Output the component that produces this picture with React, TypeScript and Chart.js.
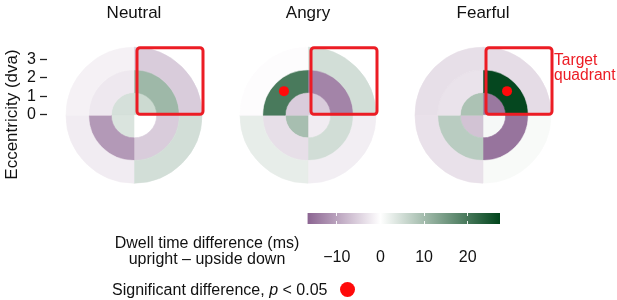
import React, { useEffect, useRef } from 'react';
import { Chart, registerables } from 'chart.js';

Chart.register(...registerables);

// ---------------- data ----------------
const PANELS = ['Neutral', 'Angry', 'Fearful'];
const QUADRANTS = ['Upper right', 'Lower right', 'Lower left', 'Upper left'];
const QUADRANT_SHARE = [1, 1, 1, 1];

// Dwell time difference (ms), upright – upside down; quadrant order as QUADRANTS
const NEUTRAL_OUTER = [-5.5, 4.8, -2.0, -1.5];
const NEUTRAL_MIDDLE = [10.5, -5.5, -11.0, -2.5];
const NEUTRAL_INNER = [5.5, 0.0, 4.0, 4.5];

const ANGRY_OUTER = [4.8, -1.8, 2.6, -0.3];
const ANGRY_MIDDLE = [-13.3, 5.0, -3.5, 19.6];
const ANGRY_INNER = [-5.5, -2.0, 9.5, -5.5];

const FEARFUL_OUTER = [-3.8, 0.8, -3.2, -3.5];
const FEARFUL_MIDDLE = [27.0, -15.0, 7.5, -3.0];
const FEARFUL_INNER = [-14.5, 1.0, -6.5, 9.0];

// significant difference (p < 0.05): rings outer, middle, inner
const NEUTRAL_SIGNIFICANT = [[0, 0, 0, 0], [0, 0, 0, 0], [0, 0, 0, 0]];
const ANGRY_SIGNIFICANT = [[0, 0, 0, 0], [0, 0, 0, 1], [0, 0, 0, 0]];
const FEARFUL_SIGNIFICANT = [[0, 0, 0, 0], [1, 0, 0, 0], [0, 0, 0, 0]];

const ECCENTRICITY_RANGE = [-3.5, 3.5];
const ECCENTRICITY_TICKS = [0, 1, 2, 3];

const COLORBAR_RANGE = [-16.7, 27.4];
const COLORBAR_TICKS = [-10, 0, 10, 20];
const CMAP_LIMIT = 27.5;

// ---------------- styles ----------------
const FONT = "'Liberation Sans', Arial, Helvetica, sans-serif";
const RED = '#ec1c24';
const CMAP_NEG = [64, 0, 75];
const CMAP_MID = [255, 255, 255];
const CMAP_POS = [0, 68, 27];
const PANEL_CX = [134, 308, 483];
const RADIUS = 68;

Chart.defaults.font.family = FONT;
Chart.defaults.color = '#111';

function colorFor(v: number): string {
  const t = Math.max(-1, Math.min(1, v / CMAP_LIMIT));
  const end = t < 0 ? CMAP_NEG : CMAP_POS;
  const a = Math.abs(t);
  const c = CMAP_MID.map((m, i) => Math.round(m + a * (end[i] - m)));
  return `rgb(${c[0]},${c[1]},${c[2]})`;
}

const PANEL_DATA = [
  { rings: [NEUTRAL_OUTER, NEUTRAL_MIDDLE, NEUTRAL_INNER], sig: NEUTRAL_SIGNIFICANT },
  { rings: [ANGRY_OUTER, ANGRY_MIDDLE, ANGRY_INNER], sig: ANGRY_SIGNIFICANT },
  { rings: [FEARFUL_OUTER, FEARFUL_MIDDLE, FEARFUL_INNER], sig: FEARFUL_SIGNIFICANT },
];

const overlayPlugin = {
  id: 'quadrantOverlay',
  afterDatasetsDraw(chart: any, _args: any, opts: any) {
    const ctx = chart.ctx;
    const arc = chart.getDatasetMeta(0).data[0];
    const { x, y, outerRadius } = arc.getProps(['x', 'y', 'outerRadius'], true);
    ctx.save();
    ctx.strokeStyle = RED;
    ctx.lineWidth = 3;
    ctx.lineJoin = 'round';
    ctx.beginPath();
    const left = x + 3;
    const top = y - outerRadius + 0.5;
    const right = x + outerRadius + 1;
    const bottom = y - 1;
    (ctx as any).roundRect(left, top, right - left, bottom - top, 3);
    ctx.stroke();
    const sig: number[][] = opts.sig || [];
    sig.forEach((row, ri) => {
      row.forEach((s, qi) => {
        if (!s) return;
        const el = chart.getDatasetMeta(ri).data[qi];
        const p = el.getCenterPoint();
        ctx.fillStyle = '#ff0a0a';
        ctx.beginPath();
        ctx.arc(p.x, p.y, 5, 0, Math.PI * 2);
        ctx.fill();
      });
    });
    ctx.restore();
  },
};

function Panel({ index }: { index: number }) {
  const ref = useRef<HTMLCanvasElement>(null);
  useEffect(() => {
    const { rings, sig } = PANEL_DATA[index];
    const chart = new Chart(ref.current as HTMLCanvasElement, {
      type: 'doughnut',
      data: {
        labels: QUADRANTS,
        datasets: rings.map((vals) => ({
          data: QUADRANT_SHARE,
          backgroundColor: vals.map(colorFor),
          borderColor: vals.map(colorFor),
          borderWidth: 0.6,
          hoverOffset: 0,
        })),
      },
      options: {
        animation: false,
        responsive: false,
        events: [],
        radius: RADIUS,
        cutout: 0,
        rotation: 0,
        layout: { padding: 0 },
        plugins: {
          legend: { display: false },
          tooltip: { enabled: false },
          title: {
            display: true,
            text: PANELS[index],
            color: '#111',
            font: { size: 17, weight: 'normal' },
            padding: { top: 3, bottom: 0 },
          },
          quadrantOverlay: { sig },
        } as any,
      } as any,
      plugins: [overlayPlugin],
    });
    return () => chart.destroy();
  }, [index]);
  return (
    <canvas
      ref={ref}
      width={180}
      height={207}
      style={{ position: 'absolute', left: PANEL_CX[index] - 90, top: 0, width: 180, height: 207 }}
    />
  );
}

function EccentricityAxis() {
  const ref = useRef<HTMLCanvasElement>(null);
  useEffect(() => {
    const chart = new Chart(ref.current as HTMLCanvasElement, {
      type: 'scatter',
      data: { datasets: [{ data: [] }] },
      options: {
        animation: false,
        responsive: false,
        events: [],
        layout: { padding: { top: 50.5, bottom: 21.5, left: 0, right: 0 } },
        plugins: { legend: { display: false }, tooltip: { enabled: false } },
        scales: {
          x: { display: false },
          y: {
            min: ECCENTRICITY_RANGE[0],
            max: ECCENTRICITY_RANGE[1],
            afterBuildTicks: (axis: any) => {
              axis.ticks = ECCENTRICITY_TICKS.map((v) => ({ value: v }));
            },
            afterFit: (axis: any) => {
              axis.width = 47;
            },
            ticks: { font: { size: 16 }, color: '#111', padding: 4 },
            grid: { drawOnChartArea: false, tickLength: 7, tickColor: '#222', tickWidth: 1.3 },
            border: { display: false },
            title: {
              display: true,
              text: 'Eccentricity (dva)',
              color: '#111',
              font: { size: 17 },
              padding: { top: 2, bottom: 2 },
            },
          },
        },
      } as any,
    });
    return () => chart.destroy();
  }, []);
  return (
    <canvas ref={ref} width={60} height={200} style={{ position: 'absolute', left: 0, top: 0, width: 60, height: 200 }} />
  );
}

function ColorBar() {
  const ref = useRef<HTMLCanvasElement>(null);
  useEffect(() => {
    const chart = new Chart(ref.current as HTMLCanvasElement, {
      type: 'bar',
      data: {
        labels: ['Dwell time difference (ms)'],
        datasets: [
          {
            data: [COLORBAR_RANGE] as any,
            backgroundColor: (c: any) => {
              const ch = c.chart;
              if (!ch.chartArea || !ch.scales.x) return '#ccc';
              const xs = ch.scales.x;
              const x0 = xs.getPixelForValue(-CMAP_LIMIT);
              const x1 = xs.getPixelForValue(CMAP_LIMIT);
              const g = ch.ctx.createLinearGradient(x0, 0, x1, 0);
              g.addColorStop(0, colorFor(-CMAP_LIMIT));
              g.addColorStop(0.25, colorFor(-CMAP_LIMIT / 2));
              g.addColorStop(0.5, colorFor(0));
              g.addColorStop(0.75, colorFor(CMAP_LIMIT / 2));
              g.addColorStop(1, colorFor(CMAP_LIMIT));
              return g;
            },
            borderWidth: 0,
            borderSkipped: false,
            barPercentage: 1,
            categoryPercentage: 1,
          },
        ],
      },
      options: {
        animation: false,
        responsive: false,
        events: [],
        indexAxis: 'y',
        layout: { padding: { left: 17.5, right: 20, top: 13, bottom: 4 } },
        plugins: { legend: { display: false }, tooltip: { enabled: false } },
        scales: {
          x: {
            type: 'linear',
            min: COLORBAR_RANGE[0],
            max: COLORBAR_RANGE[1],
            afterBuildTicks: (axis: any) => {
              axis.ticks = COLORBAR_TICKS.map((v) => ({ value: v }));
            },
            afterFit: (axis: any) => {
              axis.height = 44;
            },
            ticks: {
              font: { size: 16 },
              color: '#111',
              padding: 24,
              callback: (v: any) => (Number(v) < 0 ? '\u2212' + Math.abs(Number(v)) : String(v)),
            },
            grid: { z: 1, color: 'rgba(255,255,255,0.9)', lineWidth: 1, drawTicks: false, drawOnChartArea: true },
            border: { display: false, dash: [3, 5] },
          },
          y: { display: false },
        },
      } as any,
    });
    return () => chart.destroy();
  }, []);
  return (
    <canvas ref={ref} width={230} height={72} style={{ position: 'absolute', left: 290, top: 200, width: 230, height: 72 }} />
  );
}

export default function App() {
  const text: React.CSSProperties = {
    position: 'absolute',
    fontFamily: FONT,
    fontSize: 16,
    color: '#111',
    whiteSpace: 'nowrap',
    lineHeight: '16px',
  };
  return (
    <div
      style={{
        position: 'fixed',
        left: 0,
        top: 0,
        width: 617,
        height: 300,
        background: '#fff',
        overflow: 'hidden',
        fontFamily: FONT,
      }}
    >
      <EccentricityAxis />
      {PANELS.map((_, i) => (
        <Panel key={i} index={i} />
      ))}
      <ColorBar />
      <div style={{ ...text, left: 107, width: 200, top: 235, textAlign: 'center' }}>
        Dwell time difference (ms)
        <br />
        upright {'\u2013'} upside down
      </div>
      <div style={{ ...text, left: 112, top: 282 }}>
        Significant difference, <i>p</i> {'<'} 0.05
      </div>
      <div
        style={{
          position: 'absolute',
          left: 339.5,
          top: 281.5,
          width: 15,
          height: 15,
          borderRadius: '50%',
          background: '#ff0a0a',
        }}
      />
      <div style={{ ...text, left: 554, top: 53, fontSize: 15.6, color: RED, lineHeight: '14.5px' }}>
        Target
        <br />
        quadrant
      </div>
    </div>
  );
}
